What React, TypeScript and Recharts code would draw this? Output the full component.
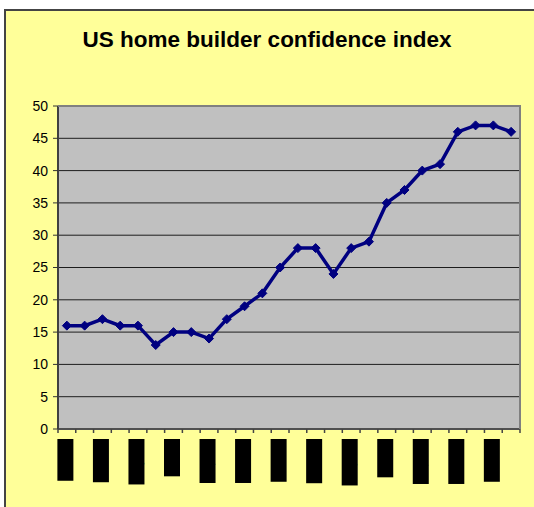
import React, { useLayoutEffect, useRef, useState } from 'react';
import { LineChart, Line, XAxis, YAxis, CartesianGrid } from 'recharts';

const months = [
  'Jan-11', 'Feb-11', 'Mar-11', 'Apr-11', 'May-11', 'Jun-11', 'Jul-11', 'Aug-11', 'Sep-11',
  'Oct-11', 'Nov-11', 'Dec-11', 'Jan-12', 'Feb-12', 'Mar-12', 'Apr-12', 'May-12', 'Jun-12',
  'Jul-12', 'Aug-12', 'Sep-12', 'Oct-12', 'Nov-12', 'Dec-12', 'Jan-13', 'Feb-13',
];
const confidence = [16, 16, 17, 16, 16, 13, 15, 15, 14, 17, 19, 21, 25, 28, 28, 24, 28, 29, 35, 37, 40, 41, 46, 47, 47, 46];
const yTicks = [0, 5, 10, 15, 20, 25, 30, 35, 40, 45, 50];

const data = months.map((m, i) => ({ month: m, value: confidence[i] }));

const FONT = '"Liberation Sans", Arial, sans-serif';
const PLOT_LEFT = 58;
const PLOT_RIGHT = 520;
const BAND = (PLOT_RIGHT - PLOT_LEFT) / months.length;

// Excel-style labels: every other month, shown as black blocks, tick marks between categories
const MonthTick = (props: any) => {
  const { x, y, payload, index } = props;
  const ref = useRef<SVGTextElement>(null);
  const [len, setLen] = useState(40);
  useLayoutEffect(() => {
    if (ref.current) setLen(ref.current.getComputedTextLength());
  }, [payload.value]);
  const top = y + 10;
  const cx = x - 1.5;
  return (
    <g>
      <line x1={x - BAND / 2} x2={x - BAND / 2} y1={y} y2={y + 4} stroke="#444" strokeWidth={1.5} />
      {index === months.length - 1 && (
        <line x1={x + BAND / 2} x2={x + BAND / 2} y1={y} y2={y + 4} stroke="#444" strokeWidth={1.5} />
      )}
      {index % 2 === 0 && (
        <>
          <rect x={cx - 8} y={top} width={16} height={len + 2} fill="#000" />
          <text
            ref={ref}
            x={cx}
            y={top + 1}
            transform={`rotate(-90 ${cx} ${top + 1})`}
            textAnchor="end"
            dy="0.35em"
            fontSize={13.33}
            fontFamily={FONT}
            fill="#000"
          >
            {payload.value}
          </text>
        </>
      )}
    </g>
  );
};

const Diamond = (props: any) => {
  const { cx, cy } = props;
  if (cx == null || cy == null) return null;
  const r = 4.5;
  return (
    <polygon
      points={`${cx},${cy - r} ${cx + r},${cy} ${cx},${cy + r} ${cx - r},${cy}`}
      fill="#000080"
      stroke="#000080"
      strokeWidth={1}
    />
  );
};

export default function App() {
  return (
    <div style={{ position: 'fixed', left: 0, top: 0, width: 534, height: 507, overflow: 'hidden', background: '#fff' }}>
      <div
        style={{
          position: 'absolute',
          left: 4,
          top: 9,
          width: 600,
          height: 600,
          background: '#FFFF99',
          borderLeft: '2px solid #444',
          borderTop: '2px solid #444',
        }}
      />
      <div
        style={{
          position: 'absolute',
          left: 0,
          top: 29,
          width: 534,
          textAlign: 'center',
          fontFamily: FONT,
          fontWeight: 'bold',
          fontSize: 22.5,
          lineHeight: 1,
          color: '#000',
        }}
      >
        US home builder confidence index
      </div>
      <div style={{ position: 'absolute', left: 0, top: 0 }}>
        <LineChart
          width={534}
          height={507}
          data={data}
          margin={{ top: 106, right: 534 - PLOT_RIGHT, bottom: 18, left: 0 }}
        >
          <CartesianGrid vertical={false} fill="#C0C0C0" stroke="#000" strokeOpacity={0.85} />
          <XAxis
            dataKey="month"
            height={60}
            interval={0}
            padding={{ left: BAND / 2, right: BAND / 2 }}
            tickSize={0}
            tickMargin={0}
            tickLine={false}
            axisLine={{ stroke: '#505050', strokeWidth: 2 }}
            tick={<MonthTick />}
          />
          <YAxis
            width={PLOT_LEFT}
            domain={[0, 50]}
            ticks={yTicks}
            interval={0}
            tickSize={5}
            tickMargin={5}
            tickLine={{ stroke: '#333' }}
            axisLine={{ stroke: '#404040', strokeWidth: 2 }}
            tick={{ fill: '#000', fontSize: 14, fontFamily: FONT }}
          />
          <Line
            type="linear"
            dataKey="value"
            stroke="#000080"
            strokeWidth={3.5}
            dot={<Diamond />}
            activeDot={false}
            isAnimationActive={false}
          />
        </LineChart>
      </div>
      <div
        style={{
          position: 'absolute',
          left: PLOT_LEFT,
          top: 105,
          width: PLOT_RIGHT - PLOT_LEFT + 1,
          height: 324,
          borderTop: '2px solid #808080',
          borderRight: '2px solid #808080',
          boxSizing: 'border-box',
          pointerEvents: 'none',
        }}
      />
    </div>
  );
}
